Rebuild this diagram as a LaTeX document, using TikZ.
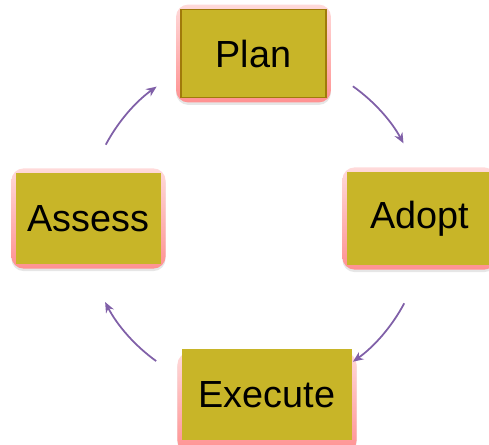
\documentclass[tikz,border=0pt]{standalone}
\usepackage{fontspec}
\setmainfont{Liberation Sans}
\usetikzlibrary{arrows.meta,fit,backgrounds,shadows}
\definecolor{stagefill}{RGB}{200,181,40}
\definecolor{stageline}{RGB}{160,122,10}
\definecolor{glowtop}{RGB}{255,218,218}
\definecolor{glowbottom}{RGB}{255,145,145}
\definecolor{cyclearrow}{RGB}{128,96,168}
\tikzset{
 stage/.style={fill=stagefill, minimum width=2.9cm, minimum height=1.82cm, inner sep=0pt, font=\fontsize{21.5}{26}\selectfont},
 glow/.style={rounded corners=7pt, top color=glowtop, bottom color=glowbottom, inner sep=0.085cm, drop shadow={opacity=0.2, shadow xshift=0pt, shadow yshift=-0.05cm}},
 flow/.style={cyclearrow, line width=1pt, -{Stealth[length=6pt, width=5pt]}}
}

\begin{document}
\begin{tikzpicture}
 \useasboundingbox (0, 0) rectangle (9.78, 8.88);
 \node [stage, draw=stageline, line width=0.8pt, minimum height=1.76cm] (plan) at (5.07, 7.81) {Plan};
 \node [stage, minimum height=1.86cm] (adopt) at (8.39, 4.51) {Adopt};
 \node [stage] (assess) at (1.77, 4.51) {Assess};
 \node [stage, minimum width=3.4cm] (execute) at (5.34, 0.99) {Execute};
 \begin{scope}[on background layer]
  \foreach \n/\dy in {plan/0, adopt/0, assess/0, execute/-0.16}
   \node [glow, fit=(\n), yshift=\dy cm] {};
 \end{scope}
 % cycle arrows round the middle
 \coordinate (hub) at (5.10, 4.40);
 \foreach \s/\e in {54.6/28.5, -28/-54.6, -125.8/-152.5, 152/125.6}
  \draw [flow] (hub) ++(\s:3.38) arc [start angle=\s, end angle=\e, radius=3.38];
\end{tikzpicture}
\end{document}
